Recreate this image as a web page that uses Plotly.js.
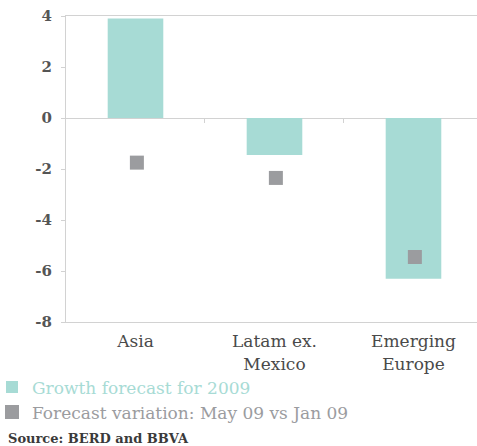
<!DOCTYPE html>
<html>
<head>
<meta charset="utf-8">
<script src="https://cdn.plot.ly/plotly-3.0.1.min.js"></script>
<style>html,body{margin:0;padding:0;background:#fff;}#chart{width:477px;height:446px;}</style>
</head>
<body>
<div id="chart"></div>
<script>
const categories = ["Asia", "Latam ex.<br>Mexico", "Emerging<br>Europe"];
const growth2009 = [3.9, -1.45, -6.3];
const variation = [-1.75, -2.35, -5.45];
const yTicks = [-8, -6, -4, -2, 0, 2, 4];
const yTickLabels = ["-8", "-6", "-4", "-2", "0", "2", "4"];
const seriesNames = ["Growth forecast for 2009", "Forecast variation: May 09 vs Jan 09"];

const teal = "#a7dbd5";
const grey = "#9b9c9f";
const serif = "DejaVu Serif, serif";
const xIdx = categories.map((c, i) => i);

const traces = [
  {
    type: "bar", x: xIdx, y: growth2009, width: 0.4,
    marker: {color: teal},
    name: '<span style="color:' + teal + '">' + seriesNames[0] + '</span>',
    hoverinfo: "y"
  },
  {
    type: "scatter", mode: "markers", x: xIdx.map(v => v + 0.01), y: variation,
    marker: {color: grey, symbol: "square", size: 14},
    name: '<span style="color:' + grey + '">' + seriesNames[1] + '</span>',
    hoverinfo: "y"
  },
  {
    type: "scatter", mode: "markers", x: [0], y: [0], xaxis: "x2",
    marker: {opacity: 0}, showlegend: false, hoverinfo: "skip"
  }
];

const layout = {
  width: 477, height: 446,
  margin: {l: 66, r: 0, t: 16, b: 124, autoexpand: false},
  paper_bgcolor: "#fff", plot_bgcolor: "#fff",
  font: {family: serif, color: "#555"},
  showlegend: true,
  legend: {
    x: -74 / 411, xanchor: "left", y: -0.155, yanchor: "top",
    font: {family: serif, size: 17, color: "#999"},
    tracegroupgap: 0, itemwidth: 30,
    bgcolor: "rgba(0,0,0,0)"
  },
  xaxis: {
    range: [-0.5, 2.457], automargin: false,
    tickvals: xIdx, ticktext: categories,
    tickfont: {family: serif, size: 17, color: "#4a4a4a"},
    ticklabelstandoff: 4,
    showline: true, mirror: true, linecolor: "#d2d2d2", linewidth: 1,
    showgrid: false, zeroline: false, ticks: "", fixedrange: true
  },
  xaxis2: {
    overlaying: "x", anchor: "free", position: 8 / 12, side: "bottom",
    range: [-0.5, 2.457], automargin: false,
    tickvals: [0.5, 1.5], showticklabels: false,
    ticks: "outside", ticklen: 4, tickcolor: "#d2d2d2",
    showline: false, showgrid: false, zeroline: false
  },
  yaxis: {
    range: [-8, 4], tickvals: yTicks, ticktext: yTickLabels, automargin: false,
    tickfont: {family: serif, size: 15, color: "#555", weight: "bold"},
    ticks: "outside", ticklen: 4, tickcolor: "#d2d2d2",
    ticklabelstandoff: 6,
    showline: true, linecolor: "#d2d2d2", linewidth: 1,
    showgrid: false, zeroline: true, zerolinecolor: "#d2d2d2", zerolinewidth: 1,
    fixedrange: true
  },
  annotations: [
    {
      text: "<b>Source: BERD and BBVA</b>", xref: "paper", yref: "paper",
      x: -66 / 411, y: -(429 - 322) / 306, xanchor: "left", yanchor: "top",
      xshift: 6, showarrow: false,
      font: {family: serif, size: 13, color: "#3a3a3a"}
    }
  ]
};

Plotly.newPlot("chart", traces, layout, {displayModeBar: false, staticPlot: true});
</script>
</body>
</html>
